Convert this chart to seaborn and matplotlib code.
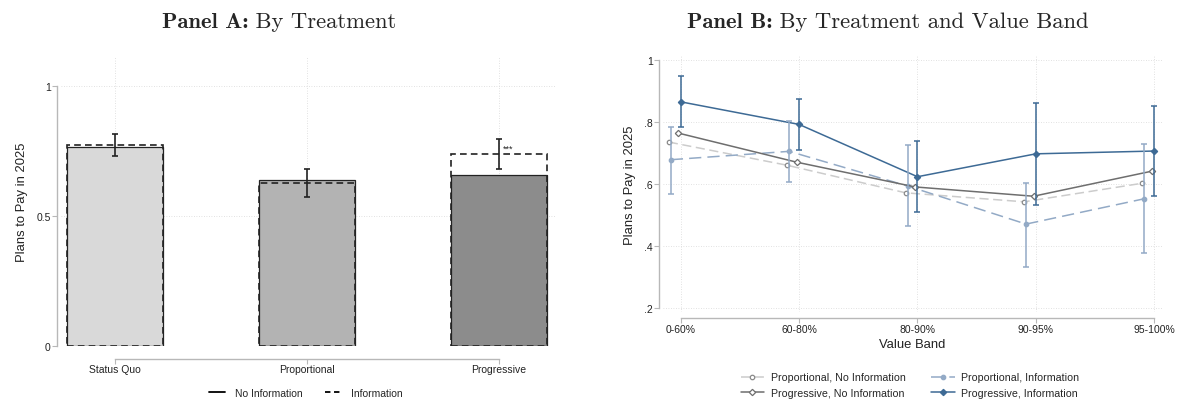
import numpy as np
import matplotlib
matplotlib.use("Agg")
import matplotlib.pyplot as plt
from matplotlib.lines import Line2D
import seaborn as sns

# Panel A: by treatment
treatments = ["Status Quo", "Proportional", "Progressive"]
no_info = [0.766, 0.640, 0.658]
info = [0.773, 0.628, 0.737]
info_lo = [0.732, 0.574, 0.682]
info_hi = [0.815, 0.681, 0.794]
bar_colors = ["#d9d9d9", "#b3b3b3", "#8c8c8c"]

# Panel B: by treatment and value band
bands = ["0-60%", "60-80%", "80-90%", "90-95%", "95-100%"]
prop_noinfo = [0.736, 0.661, 0.572, 0.543, 0.603]
prop_info = [0.679, 0.706, 0.594, 0.471, 0.553]
prop_info_lo = [0.569, 0.607, 0.465, 0.333, 0.379]
prop_info_hi = [0.786, 0.805, 0.726, 0.605, 0.729]
prog_noinfo = [0.765, 0.671, 0.591, 0.561, 0.642]
prog_info = [0.866, 0.793, 0.624, 0.698, 0.707]
prog_info_lo = [0.785, 0.711, 0.510, 0.534, 0.561]
prog_info_hi = [0.948, 0.874, 0.738, 0.863, 0.853]

sns.set_style("white")
plt.rcParams["font.family"] = ["Liberation Sans", "DejaVu Sans"]

W, H = 1184, 406
fig = plt.figure(figsize=(W / 100, H / 100), dpi=100)


def px_axes(left, top, right, bottom):
    return fig.add_axes([left / W, 1 - bottom / H, (right - left) / W, (bottom - top) / H])


def style_axes(ax, xb, yb, xout, yout):
    for s in ["top", "right"]:
        ax.spines[s].set_visible(False)
    for s in ["left", "bottom"]:
        ax.spines[s].set_color("#b8b8b8")
        ax.spines[s].set_linewidth(1.0)
    ax.spines["bottom"].set_position(("outward", xout))
    ax.spines["left"].set_position(("outward", yout))
    ax.spines["bottom"].set_bounds(*xb)
    ax.spines["left"].set_bounds(*yb)
    ax.tick_params(axis="both", which="both", bottom=True, left=True, length=3.5,
                   width=0.8, color="#b8b8b8", labelsize=7.5, labelcolor="#222222", pad=0.8)
    ax.grid(True, linestyle=(0, (1, 2)), color="#d8d8d8", linewidth=0.6)
    ax.set_axisbelow(True)


# ---------------- Panel A ----------------
ax1 = px_axes(61, 57, 555, 347)
sns.barplot(x=treatments, y=no_info, hue=treatments, palette=bar_colors, legend=False,
            width=0.5, saturation=1, edgecolor="#222222", linewidth=0.9, ax=ax1)
sns.barplot(x=treatments, y=info, fill=False, color="#222222", width=0.5,
            linewidth=1.2, ax=ax1)
for p in ax1.patches[3:]:
    p.set_linestyle((0, (4, 2.5)))
    p.set_edgecolor("#222222")
    p.set_facecolor("none")
yerr = [np.array(info) - np.array(info_lo), np.array(info_hi) - np.array(info)]
ax1.errorbar(range(3), info, yerr=yerr, fmt="none", ecolor="#222222",
             elinewidth=1.2, capsize=2.2, capthick=1.2, zorder=5)
ax1.annotate("***", (2, info_hi[2]), xytext=(3, -6), textcoords="offset points",
             fontsize=6.5, ha="left", va="center", color="#222222")
ax1.set_xlim(-0.281, 2.292)
ax1.set_ylim(0, 1.115)
ax1.set_yticks([0, 0.5, 1])
ax1.set_yticklabels(["0", "0.5", "1"])
ax1.set_ylabel("Plans to Pay in 2025", fontsize=9.4, color="#222222", labelpad=6)
ax1.set_xlabel("")
style_axes(ax1, (0, 2), (0, 1), 9, 3)

legA = [Line2D([], [], color="black", lw=1.3),
        Line2D([], [], color="black", lw=1.3, linestyle=(0, (3, 2)))]
fig.legend(legA, ["No Information", "Information"], loc="center",
           bbox_to_anchor=(306 / W, 1 - 394 / H), ncol=2, frameon=False,
           fontsize=7.5, handlelength=1.5, columnspacing=2.1, handletextpad=1.0)

# ---------------- Panel B ----------------
ax2 = px_axes(663, 57, 1162, 313)
xpos = np.arange(len(bands))
series = [
    ("Proportional, No Information", prop_noinfo, -0.10, "#cccccc", "#8a8a8a", "o", "white", (0, (6, 3))),
    ("Proportional, Information", prop_info, -0.083, "#93aac6", "#93aac6", "o", "#93aac6", (0, (8, 4))),
    ("Progressive, No Information", prog_noinfo, -0.02, "#6e6e6e", "#6e6e6e", "D", "white", "-"),
    ("Progressive, Information", prog_info, 0.0, "#3d6a95", "#3d6a95", "D", "#3d6a95", "-"),
]
for label, vals, off, lc, mec, mk, mfc, ls in series:
    sns.lineplot(x=xpos + off, y=vals, ax=ax2, color=lc, linestyle=ls, linewidth=1.1,
                 marker=mk, markersize=3.2, markerfacecolor=mfc, markeredgecolor=mec,
                 markeredgewidth=0.9, label=label, errorbar=None, sort=False)

for vals, lo, hi, off, c in [(prop_info, prop_info_lo, prop_info_hi, -0.083, "#93aac6"),
                             (prog_info, prog_info_lo, prog_info_hi, 0.0, "#3d6a95")]:
    v = np.array(vals)
    ax2.errorbar(xpos + off, v, yerr=[v - np.array(lo), np.array(hi) - v], fmt="none",
                 ecolor=c, elinewidth=1.1, capsize=1.9, capthick=1.1, zorder=4)

ax2.set_xlim(-0.149, 4.065)
ax2.set_ylim(0.187, 1.014)
ax2.set_xticks(xpos)
ax2.set_xticklabels(bands)
ax2.set_yticks([0.2, 0.4, 0.6, 0.8, 1.0])
ax2.set_yticklabels([".2", ".4", ".6", ".8", "1"])
ax2.set_ylabel("Plans to Pay in 2025", fontsize=9.4, color="#222222", labelpad=6)
ax2.set_xlabel("Value Band", fontsize=9.4, color="#222222", labelpad=3)
style_axes(ax2, (0, 4), (0.2, 1.0), 4, 3)

h, l = ax2.get_legend_handles_labels()
ax2.get_legend().remove()
order = [0, 2, 1, 3]
fig.legend([h[i] for i in order], [l[i] for i in order], loc="center",
           bbox_to_anchor=(910 / W, 1 - 386 / H), ncol=2, frameon=False,
           fontsize=7.7, handlelength=2.2, columnspacing=2.4,
           handletextpad=0.6, labelspacing=0.5)

# ---------------- Titles ----------------
renderer = fig.canvas.get_renderer()


def panel_title(cx, cy, bold, rest, size):
    tb = fig.text(0, 0, bold, fontfamily="cmb10", fontsize=size)
    tr = fig.text(0, 0, " " + rest, fontfamily="cmr10", fontsize=size)
    wb = tb.get_window_extent(renderer).width
    wr = tr.get_window_extent(renderer).width
    x0 = cx - (wb + wr) / 2
    tb.set_position((x0 / W, 1 - cy / H))
    tr.set_position(((x0 + wb) / W, 1 - cy / H))
    for t in (tb, tr):
        t.set_va("baseline")


panel_title(279, 28, "Panel A:", "By Treatment", 16.3)
panel_title(888, 28, "Panel B:", "By Treatment and Value Band", 16.3)

fig.savefig("out.png", dpi=100)
